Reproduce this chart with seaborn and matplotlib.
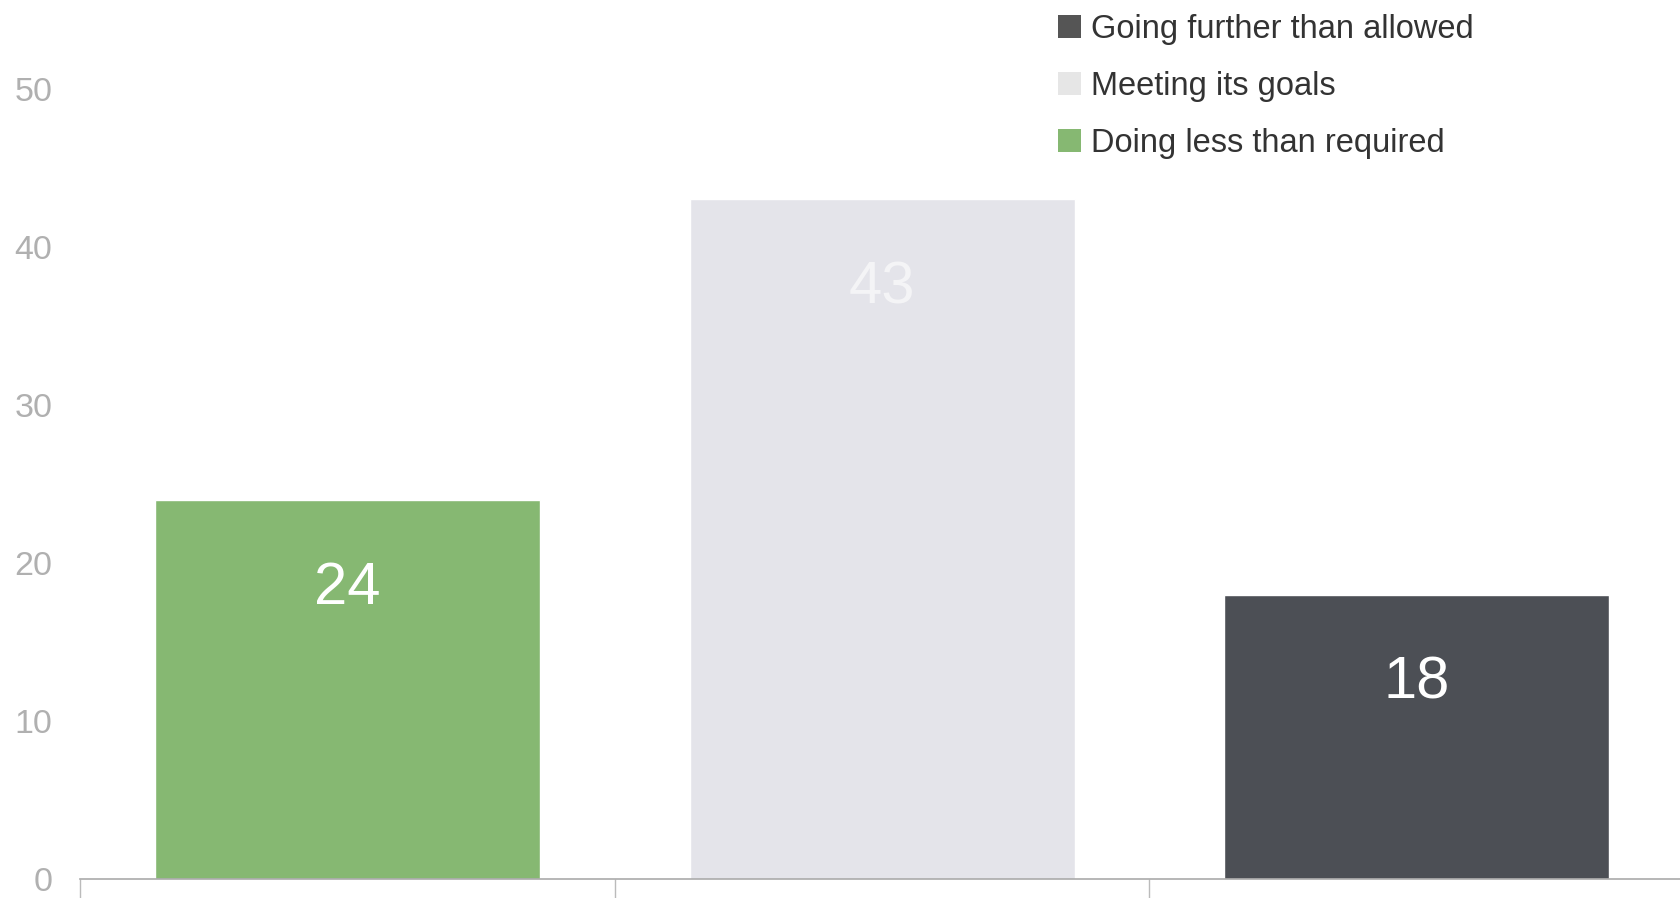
import matplotlib
matplotlib.use('Agg')
import matplotlib.pyplot as plt
import seaborn as sns
from matplotlib.patches import Patch

# Data
categories = ['Doing less than required', 'Meeting its goals', 'Going further than allowed']
values = [24, 43, 18]
bar_colors = ['#86b872', '#e4e4ea', '#4c4f55']
legend_colors = ['#86b872', '#e6e6e6', '#555555']
label_colors = ['white', '#f4f4f6', 'white']

sns.set_style('white')
plt.rcParams['font.family'] = ['Liberation Sans', 'DejaVu Sans']

fig = plt.figure(figsize=(16.8, 8.98), dpi=100)
ax = fig.add_axes([0.0476, 0.021, 0.958, 0.979])

sns.barplot(x=categories, y=values, hue=categories, palette=bar_colors,
            width=0.72, saturation=1, legend=False, ax=ax)

ax.set_ylim(0, 55.6)
ax.set_xlim(-0.5, 2.51)
ax.set_yticks([0, 10, 20, 30, 40, 50])
ax.tick_params(axis='y', length=0, pad=20, labelsize=24.5, labelcolor='#b0b0b0')
ax.set_xticks([])
ax.set_xticks([-0.5, 0.5, 1.5], minor=True)
ax.tick_params(axis='x', which='minor', bottom=True, length=14, width=1,
               color='#bbbbbb', direction='out')
ax.set_xlabel('')
ax.set_ylabel('')

for side in ['top', 'right', 'left']:
    ax.spines[side].set_visible(False)
ax.spines['bottom'].set_color('#aaaaaa')
ax.spines['bottom'].set_linewidth(1.2)

# value labels inside bars
for i, v in enumerate(values):
    ax.annotate(str(v), xy=(i, v), xytext=(0, -64), textcoords='offset points',
                ha='center', va='center', fontsize=43, color=label_colors[i])

# legend, reversed order
handles = [Patch(facecolor=legend_colors[i], edgecolor='none', label=categories[i])
           for i in [2, 1, 0]]
fig.legend(handles=handles, loc='upper left', bbox_to_anchor=(0.6125, 1.017),
           frameon=False, fontsize=23.5, handlelength=0.7, handleheight=0.7,
           handletextpad=0.3, labelspacing=0.8, labelcolor='#333333')

plt.savefig('out.png', dpi=100)
